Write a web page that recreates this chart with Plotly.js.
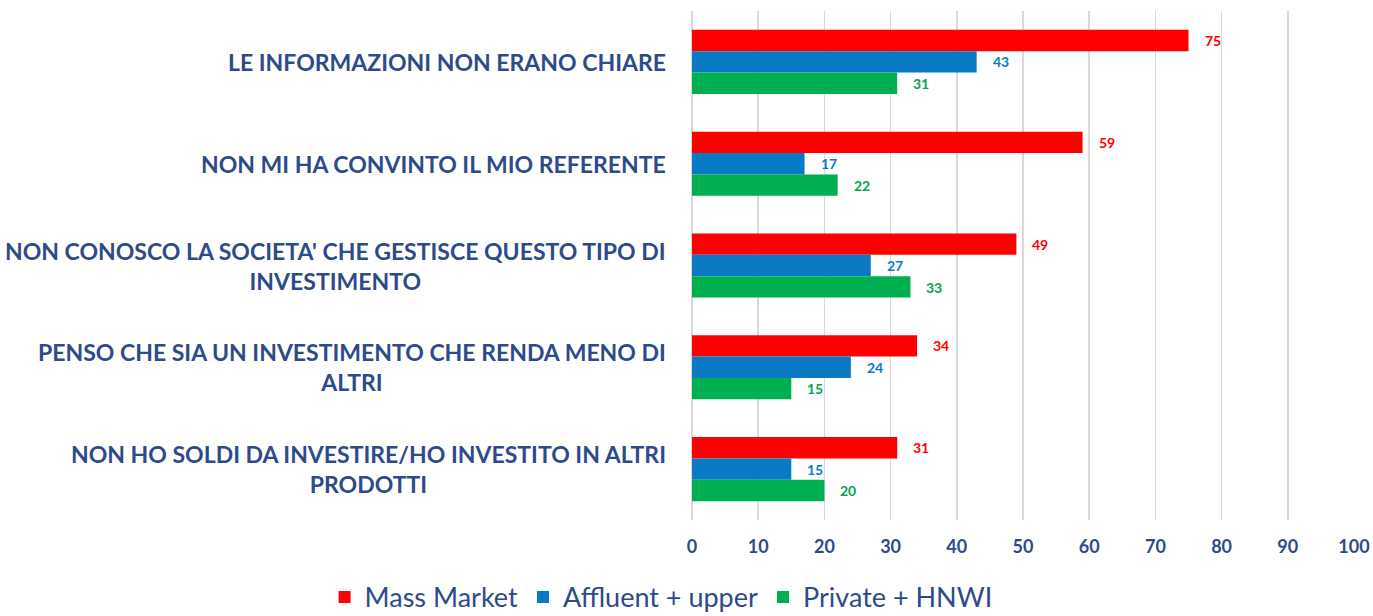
<!DOCTYPE html>
<html>
<head>
<meta charset="utf-8">
<script src="https://cdn.plot.ly/plotly-3.0.1.min.js"></script>
<style>html,body{margin:0;padding:0;background:#fff;}#chart{width:1373px;height:616px;}</style>
</head>
<body>
<div id="chart"></div>
<script>
const categories = [
  "LE INFORMAZIONI NON ERANO CHIARE",
  "NON MI HA CONVINTO IL MIO REFERENTE",
  "NON CONOSCO LA SOCIETA' CHE GESTISCE QUESTO TIPO DI<br>INVESTIMENTO",
  "PENSO CHE SIA UN INVESTIMENTO CHE RENDA MENO DI<br>ALTRI",
  "NON HO SOLDI DA INVESTIRE/HO INVESTITO IN ALTRI<br>PRODOTTI"
];
const seriesNames = ["Mass Market", "Affluent + upper", "Private + HNWI"];
const massMarket = [75, 59, 49, 34, 31];
const affluent = [43, 17, 27, 24, 15];
const privateHnwi = [31, 22, 33, 15, 20];
const tickVals = [0,10,20,30,40,50,60,70,80,90,100];

const colors = ["#FF0000", "#0A7AC4", "#00B050"];
const labelColors = ["#FF0000", "#0A7AC4", "#00A550"];
const navy = "#2E4A8A";
const font = "Lato, 'Open Sans', sans-serif";
const ids = categories.map((c, i) => "c" + i);
const allSeries = [massMarket, affluent, privateHnwi];

const traces = allSeries.map((vals, s) => ({
  type: "bar",
  orientation: "h",
  name: seriesNames[s],
  x: vals,
  y: ids,
  marker: {color: colors[s]},
  hoverinfo: "x"
}));

const annotations = [];
categories.forEach((c, i) => {
  annotations.push({
    x: 0, xref: "paper", y: ids[i], yref: "y",
    xanchor: "right", yanchor: "middle", xshift: -24,
    text: c, showarrow: false, align: "center",
    font: {family: font, size: 23, color: navy, weight: 700}
  });
});
const shifts = [21.5, 0, -21.5];
allSeries.forEach((vals, s) => {
  vals.forEach((v, i) => {
    annotations.push({
      x: v, xref: "x", y: ids[i], yref: "y",
      xanchor: "left", yanchor: "middle", xshift: 14, yshift: shifts[s],
      text: String(v), showarrow: false,
      font: {family: font, size: 14, color: labelColors[s], weight: 700}
    });
  });
});

const layout = {
  width: 1373, height: 616,
  margin: {l: 692, r: 19, t: 11, b: 96, autoexpand: false},
  paper_bgcolor: "#fff", plot_bgcolor: "#fff",
  barmode: "group", bargap: 0.37, bargroupgap: 0,
  showlegend: true,
  legend: {orientation: "h", x: -0.555, xanchor: "left", xref: "paper",
    y: -0.152, yanchor: "middle", yref: "paper",
    font: {family: font, size: 27, color: navy}, traceorder: "normal"},
  xaxis: {range: [0, 100], tickvals: tickVals, showgrid: true, gridcolor: "#D9D9D9", gridwidth: 1.5,
    zeroline: true, zerolinecolor: "#D9D9D9", zerolinewidth: 1.5, showline: false, ticks: "",
    ticklabelstandoff: 14,
    tickfont: {family: font, size: 18, color: navy, weight: 700}, fixedrange: true},
  yaxis: {type: "category", autorange: "reversed", showticklabels: false, showgrid: false, zeroline: false, ticks: ""},
  annotations: annotations
};

Plotly.newPlot("chart", traces, layout, {displayModeBar: false, staticPlot: true});
</script>
</body>
</html>
